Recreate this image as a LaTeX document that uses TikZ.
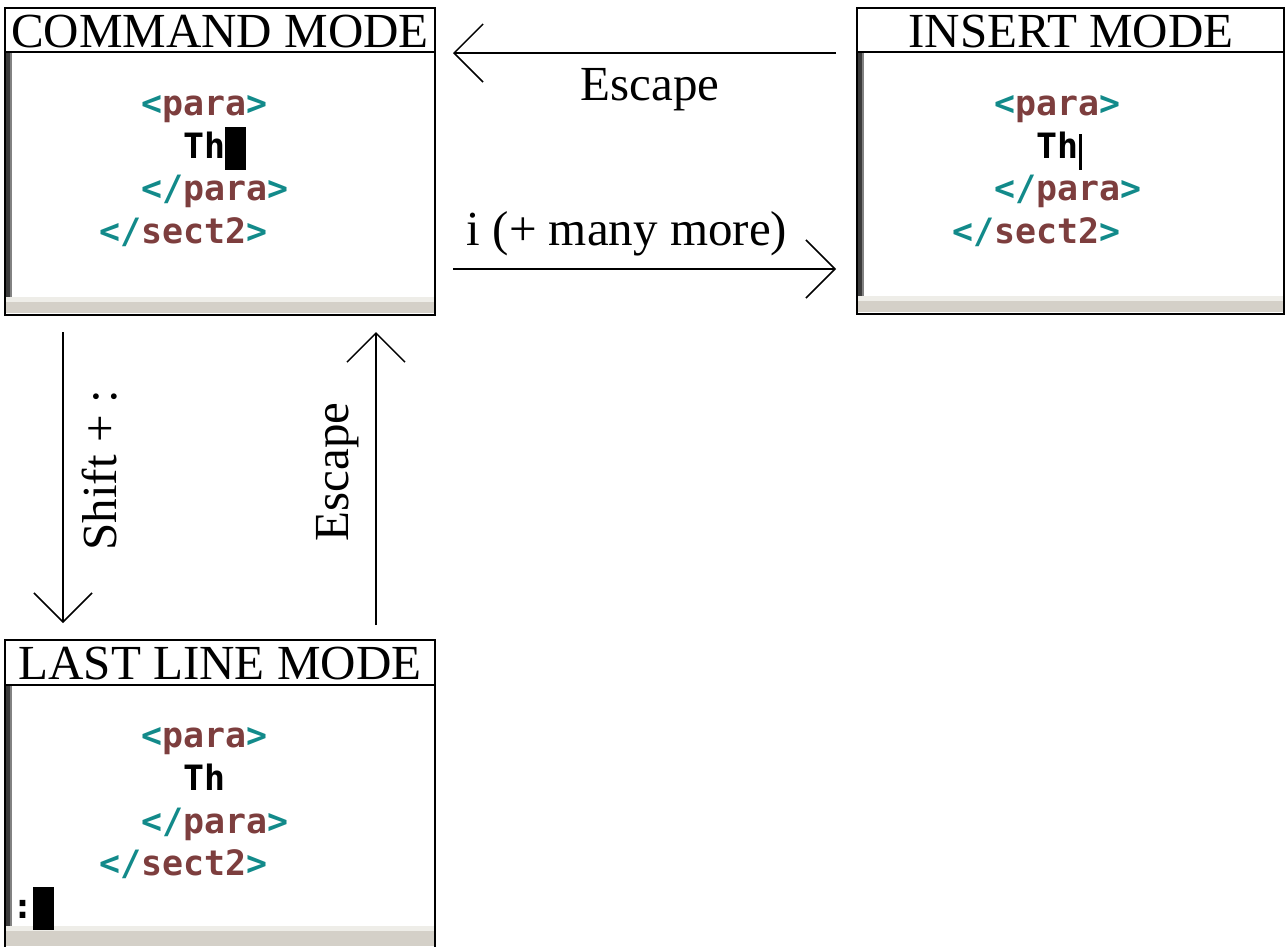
\documentclass[tikz,border=0pt]{standalone}
\usepackage{fontspec}
\setmainfont{Liberation Serif}
\newfontfamily\codef{DejaVu Sans Mono}
\usetikzlibrary{arrows.meta}
\definecolor{tl}{RGB}{18,138,138}
\definecolor{br}{RGB}{125,62,62}
\definecolor{barc}{RGB}{212,208,200}
\definecolor{barl}{RGB}{238,237,232}
\definecolor{edgedark}{RGB}{60,60,60}
\definecolor{edgelight}{RGB}{130,130,130}
\newcommand\optag[1]{\textcolor{tl}{<}\textcolor{br}{#1}\textcolor{tl}{>}}
\newcommand\cltag[1]{\textcolor{tl}{</}\textcolor{br}{#1}\textcolor{tl}{>}}
\begin{document}
\begin{tikzpicture}[x=1pt,y=-1pt,
  panel/.style={fill=white,inner sep=0pt,outer sep=0pt},
  border/.style={draw=black,line width=2pt},
  titletext/.style={anchor=base,inner sep=0pt,font=\fontsize{49}{49}\selectfont},
  label/.style={anchor=base,inner sep=0pt,font=\fontsize{49}{49}\selectfont},
  code/.style={anchor=base west,inner sep=0pt,font=\codef\bfseries\fontsize{34.9}{34.9}\selectfont},
  cursorblock/.style={fill=black,inner sep=0pt,minimum width=21pt,minimum height=43pt,anchor=north west},
  arr/.style={line width=1.9pt,-{Straight Barb[length=29pt,width=58pt,line width=1.5pt]}}
]
\useasboundingbox (0,0) rectangle (1286,946);

% ---------- COMMAND MODE ----------
\node[panel,minimum width=430pt,minimum height=307pt] (cmd) at (220,161.5) {};
\fill[barl] (5,297) rectangle (435,302);
\fill[barc] (5,302) rectangle (435,313);
\fill[edgedark] (6,52) rectangle (9.5,297);
\fill[edgelight] (9.5,52) rectangle (12,297);
\draw[border] (cmd.north west) rectangle (cmd.south east);
\draw[line width=1.6pt] (5,52) -- (435,52);
\node[titletext] (cmdt) at (220,47) {COMMAND MODE};
\node[code] (c1) at (141,115) {\optag{para}};
\node[code] (c2) at (183,158) {Th};
\node[cursorblock] (c3) at (225,127) {};
\node[code] (c4) at (141,200) {\cltag{para}};
\node[code] (c5) at (99,243) {\cltag{sect2}};

% ---------- INSERT MODE ----------
\node[panel,minimum width=427pt,minimum height=306pt] (ins) at (1070.5,161) {};
\fill[barl] (857,296) rectangle (1284,301);
\fill[barc] (857,301) rectangle (1284,312);
\fill[edgedark] (858,52) rectangle (861.5,296);
\fill[edgelight] (861.5,52) rectangle (864,296);
\draw[border] (ins.north west) rectangle (ins.south east);
\draw[line width=1.6pt] (857,52) -- (1284,52);
\node[titletext] (inst) at (1071,47) {INSERT MODE};
\node[code] (i1) at (994,115) {\optag{para}};
\node[code] (i2) at (1036,158) {Th};
\node[fill=black,inner sep=0pt,minimum width=2.6pt,minimum height=36pt,anchor=north west] (i3) at (1079,134) {};
\node[code] (i4) at (994,200) {\cltag{para}};
\node[code] (i5) at (952,243) {\cltag{sect2}};

% ---------- LAST LINE MODE ----------
\node[panel,minimum width=430pt,minimum height=308pt] (last) at (220,794) {};
\fill[barl] (5,926) rectangle (435,931);
\fill[barc] (5,931) rectangle (435,946);
\fill[edgedark] (6,685) rectangle (9.5,926);
\fill[edgelight] (9.5,685) rectangle (12,926);
\draw[border] (last.north west) rectangle (last.south east);
\draw[line width=1.6pt] (5,685) -- (435,685);
\node[titletext] (lastt) at (220,679) {LAST LINE MODE};
\node[code] (l1) at (141,747) {\optag{para}};
\node[code] (l2) at (183,790) {Th};
\node[code] (l4) at (141,833) {\cltag{para}};
\node[code] (l5) at (99,875) {\cltag{sect2}};
\node[code] (l6) at (12,918) {\textcolor{black}{:}};
\node[cursorblock] (l7) at (33,887) {};

% ---------- connectors ----------
\coordinate (escA) at (836,53);
\coordinate (escB) at (453,53);
\coordinate (insA) at (453,269);
\coordinate (insB) at (836,269);
\coordinate (shA) at (63,332);
\coordinate (shB) at (63,623);
\coordinate (upA) at (376,625);
\coordinate (upB) at (376,332);
\draw[arr] (escA) -- (escB);
\draw[arr] (insA) -- (insB);
\draw[arr] (shA) -- (shB);
\draw[arr] (upA) -- (upB);

\node[label] (lesc) at (650,100) {Escape};
\node[label] (lins) at (627,245) {i (+ many more)};
\node[label,rotate=90] (lsh) at (116,470) {Shift + :};
\node[label,rotate=90] (lup) at (348,472) {Escape};
\end{tikzpicture}
\end{document}
